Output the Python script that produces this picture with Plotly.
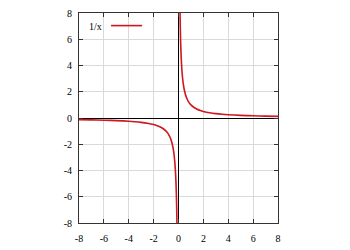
import plotly.graph_objects as go

# values (y = 1/x)
x_neg = [-8, -7, -6, -5, -4, -3.5, -3, -2.5, -2, -1.75, -1.5, -1.25, -1, -0.9, -0.8, -0.7, -0.6,
         -0.5, -0.45, -0.4, -0.35, -0.3, -0.27, -0.24, -0.22, -0.2, -0.18, -0.16, -0.15, -0.14, -0.13, -0.125]
y_neg = [-0.125, -0.143, -0.167, -0.2, -0.25, -0.286, -0.333, -0.4, -0.5, -0.571, -0.667, -0.8, -1.0,
         -1.111, -1.25, -1.429, -1.667, -2.0, -2.222, -2.5, -2.857, -3.333, -3.704, -4.167, -4.545,
         -5.0, -5.556, -6.25, -6.667, -7.143, -7.692, -8.0]
x_pos = [0.125, 0.13, 0.14, 0.15, 0.16, 0.18, 0.2, 0.22, 0.24, 0.27, 0.3, 0.35, 0.4, 0.45, 0.5, 0.6,
         0.7, 0.8, 0.9, 1, 1.25, 1.5, 1.75, 2, 2.5, 3, 3.5, 4, 5, 6, 7, 8]
y_pos = [8.0, 7.692, 7.143, 6.667, 6.25, 5.556, 5.0, 4.545, 4.167, 3.704, 3.333, 2.857, 2.5, 2.222,
         2.0, 1.667, 1.429, 1.25, 1.111, 1.0, 0.8, 0.667, 0.571, 0.5, 0.4, 0.333, 0.286, 0.25, 0.2,
         0.167, 0.143, 0.125]

x_ticks = [-8, -6, -4, -2, 0, 2, 4, 6, 8]
y_ticks = [-8, -6, -4, -2, 0, 2, 4, 6, 8]
series_name = "1/x"

RED = "#d0161e"
FONT = "Liberation Serif"

fig = go.Figure()
fig.add_trace(go.Scatter(x=x_neg, y=y_neg, mode="lines", line=dict(color=RED, width=1.6),
                         line_shape="spline", showlegend=False, hoverinfo="skip"))
fig.add_trace(go.Scatter(x=x_pos, y=y_pos, mode="lines", line=dict(color=RED, width=1.6),
                         line_shape="spline", showlegend=False, hoverinfo="skip"))

axis_common = dict(
    showgrid=True, gridcolor="#d9d9d9", gridwidth=1,
    zeroline=True, zerolinecolor="#000000", zerolinewidth=1,
    showline=True, linecolor="#333333", linewidth=1, mirror="ticks",
    ticks="inside", ticklen=4, tickcolor="#333333", tickwidth=1,
    tickfont=dict(family=FONT, size=10, color="#000000"),
)

fig.update_layout(
    width=350, height=250,
    margin=dict(l=79, r=72, t=13, b=27),
    paper_bgcolor="white", plot_bgcolor="white",
    font=dict(family=FONT, size=10, color="#000000"),
    xaxis=dict(range=[-8, 8], tickvals=x_ticks, ticktext=[str(v) for v in x_ticks],
               ticklabelstandoff=6, automargin=False, **axis_common),
    yaxis=dict(range=[-8, 8], tickvals=y_ticks, ticktext=[str(v) for v in y_ticks],
               ticklabelstandoff=4, automargin=False, **axis_common),
    showlegend=False,
)

# gnuplot-style key: text then line sample
fig.add_annotation(x=0.126, y=0.938, xref="paper", yref="paper", text=series_name,
                   showarrow=False, xanchor="right", yanchor="middle",
                   font=dict(family=FONT, size=10, color="#000000"))
fig.add_shape(type="line", xref="paper", yref="paper", x0=0.161, x1=0.317, y0=0.940, y1=0.940,
              line=dict(color=RED, width=1.6))

fig.write_html("out.html")
